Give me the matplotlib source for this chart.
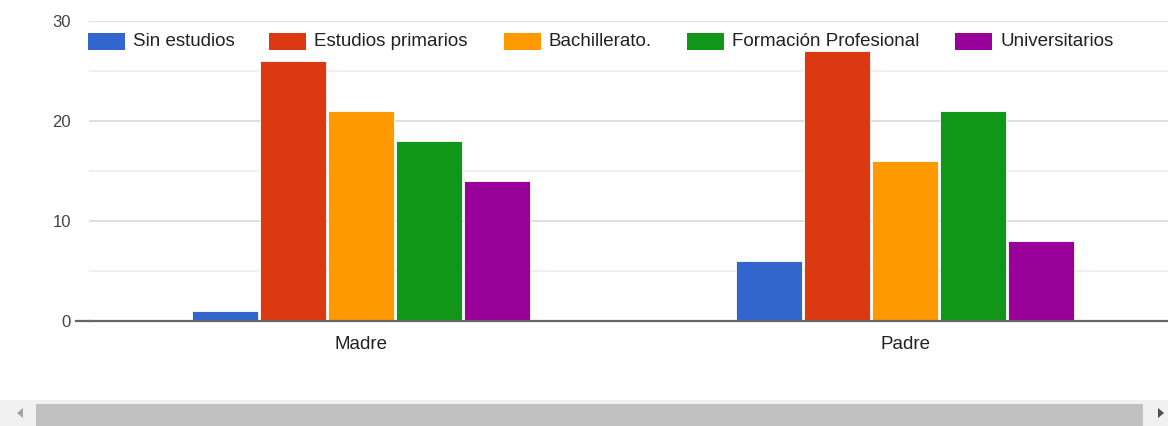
import matplotlib.pyplot as plt
import numpy as np
from matplotlib.patches import Rectangle, Polygon

plt.rcParams['font.family'] = ['Liberation Sans', 'DejaVu Sans']

# data
categories = ['Madre', 'Padre']
series = ['Sin estudios', 'Estudios primarios', 'Bachillerato.',
          'Formación Profesional', 'Universitarios']
sin_estudios = [1, 6]
primarios = [26, 27]
bachillerato = [21, 16]
fp = [18, 21]
universitarios = [14, 8]
values = [sin_estudios, primarios, bachillerato, fp, universitarios]
colors = ['#3366cc', '#dc3912', '#ff9900', '#109618', '#990099']
yticks = [0, 10, 20, 30]

W, H = 1168, 426
fig = plt.figure(figsize=(W / 100, H / 100), dpi=100)
ax = fig.add_axes([89 / W, (H - 321) / H, 1 - 89 / W, 300 / H])

x = np.arange(len(categories))
step = 0.125
width = 0.121
for i, (vals, c) in enumerate(zip(values, colors)):
    ax.bar(x + (i - 2) * step, vals, width=width, color=c,
           edgecolor='white', linewidth=0.6, zorder=3)

ax.set_xlim(-0.5, (W - 361) / 544)
ax.set_ylim(0, 30)

# gridlines: major every 10, minor every 5
for y in range(5, 31, 5):
    col = '#d9d9d9' if y % 10 == 0 else '#ececec'
    ax.axhline(y, color=col, linewidth=1.2, zorder=1)
ax.axhline(0, color='#666666', linewidth=1.6, zorder=4, clip_on=False)
# baseline extends a little left of the plot
fig.add_artist(plt.Line2D([76 / W, 89 / W], [(H - 321) / H] * 2,
                          color='#666666', linewidth=1.6))

for s in ax.spines.values():
    s.set_visible(False)
ax.set_yticks(yticks)
ax.set_yticklabels([str(t) for t in yticks], fontsize=12, color='#444444')
ax.set_xticks(x)
ax.set_xticklabels(categories, fontsize=13.5, color='#222222')
ax.tick_params(axis='y', length=0, pad=13)
ax.tick_params(axis='x', length=0, pad=11)

# legend across the top
leg_x = [88, 269, 504, 687, 955]
for name, c, lx in zip(series, colors, leg_x):
    fig.add_artist(Rectangle((lx / W, (H - 50) / H), 37 / W, 17 / H,
                             facecolor=c, edgecolor='none',
                             transform=fig.transFigure))
    fig.text((lx + 45) / W, (H - 42) / H, name, fontsize=13.5,
             color='#222222', va='center', ha='left')

# scrollbar at the bottom
fig.add_artist(Rectangle((0, 0), 1, 26 / H, facecolor='#f1f1f1',
                         edgecolor='none', transform=fig.transFigure))
fig.add_artist(Rectangle((36 / W, 0), (1143 - 36) / W, 22 / H,
                         facecolor='#c1c1c1', edgecolor='none',
                         transform=fig.transFigure))
fig.add_artist(Polygon([[17 / W, 13 / H], [23 / W, 8 / H], [23 / W, 18 / H]],
                       closed=True, facecolor='#a3a3a3', edgecolor='none',
                       transform=fig.transFigure))
fig.add_artist(Polygon([[1164 / W, 13 / H], [1158 / W, 8 / H], [1158 / W, 18 / H]],
                       closed=True, facecolor='#505050', edgecolor='none',
                       transform=fig.transFigure))

fig.savefig('out.png', dpi=100)
